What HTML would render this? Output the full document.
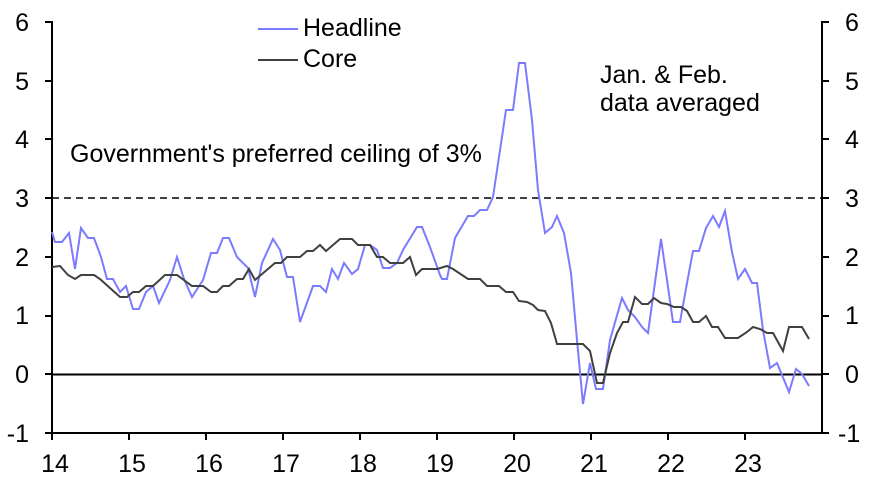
<!DOCTYPE html>
<html><head><meta charset="utf-8"><style>
body{margin:0;background:#fff;}
svg{display:block;font-family:"Liberation Sans",sans-serif;}
</style></head><body>
<svg width="873" height="481" viewBox="0 0 873 481">
<g font-size="25" fill="#000">
<text x="29" y="31" text-anchor="end">6</text>
<text x="29" y="90" text-anchor="end">5</text>
<text x="29" y="148" text-anchor="end">4</text>
<text x="29" y="207" text-anchor="end">3</text>
<text x="29" y="266" text-anchor="end">2</text>
<text x="29" y="324" text-anchor="end">1</text>
<text x="29" y="383" text-anchor="end">0</text>
<text x="29" y="442" text-anchor="end">-1</text>
<text x="845" y="31">6</text>
<text x="845" y="90">5</text>
<text x="845" y="148">4</text>
<text x="845" y="207">3</text>
<text x="845" y="266">2</text>
<text x="845" y="324">1</text>
<text x="845" y="383">0</text>
<text x="838" y="442">-1</text>
<g text-anchor="middle">
<text x="55" y="472">14</text><text x="132" y="472">15</text><text x="209" y="472">16</text><text x="286" y="472">17</text><text x="363" y="472">18</text><text x="440" y="472">19</text><text x="517" y="472">20</text><text x="594" y="472">21</text><text x="671" y="472">22</text><text x="748" y="472">23</text>
</g>
<text x="70" y="162">Government's preferred ceiling of 3%</text>
<text x="600" y="83">Jan. &amp; Feb.</text>
<text x="600" y="111">data averaged</text>
<text x="303" y="36">Headline</text>
<text x="303" y="67">Core</text>
</g>
<line x1="258" y1="29" x2="298" y2="29" stroke="#7b7bff" stroke-width="2"/>
<line x1="258" y1="60" x2="298" y2="60" stroke="#404040" stroke-width="2"/>
<g stroke="#000" stroke-width="2" fill="none">
<line x1="52" y1="21" x2="52" y2="434"/>
<line x1="822" y1="21" x2="822" y2="434"/>
<line x1="45" y1="433" x2="829" y2="433"/>
<line x1="52" y1="374.5" x2="822" y2="374.5"/>
</g>
<g stroke="#000" stroke-width="2">
<path d="M45 22h7M45 81h7M45 139h7M45 198h7M45 257h7M45 316h7M45 374h7M822 22h7M822 81h7M822 139h7M822 198h7M822 257h7M822 316h7M822 374h7"/>
<path d="M52 433v7M129 433v7M206 433v7M283 433v7M360 433v7M437 433v7M514 433v7M591 433v7M668 433v7M745 433v7"/>
</g>
<line x1="52" y1="198" x2="822" y2="198" stroke="#000" stroke-width="1.5" stroke-dasharray="7,5"/>
<polyline fill="none" stroke="#7b7bff" stroke-width="2" points="52,232 55,242 62,242 69,233 75,269 81,228 88,238 94,238 101,257 107,279 113,279 120,292 126,286 133,309 139,309 146,292 153,286 159,303 170,280 177,257 184,279 192,297 203,280 211,253 217,253 223,238 229,238 237,257 248,268 255,297 262,263 273,239 280,250 287,277 293,277 300,322 313,286 320,286 326,292 332,269 338,279 344,263 352,274 358,269 365,245 370,245 377,250 383,268 390,268 397,263 403,250 417,227 422,227 430,247 440,275 442,279 447,279 455,238 468,216 474,216 480,210 487,210 493,197 506,110 513,110 519,63 525,63 532,120 538,190 545,233 552,227 557,216 564,233 571,273 577,340 583,404 590,363 596,389 603,389 610,340 622,298 628,310 635,317 642,327 648,333 661,239 667,280 673,322 680,322 687,283 693,251 699,251 706,228 713,216 719,227 725,211 732,252 738,279 745,269 752,283 757,283 763,330 770,368 777,363 789,392 796,369 802,374 809,386"/>
<polyline fill="none" stroke="#404040" stroke-width="2" points="52,267 60,266 68,275 75,279 81,275 94,275 100,279 120,297 127,297 133,292 139,292 146,286 153,286 165,275 177,275 192,286 203,286 211,292 217,292 223,286 229,286 237,279 243,279 249,269 255,280 275,263 281,263 287,257 300,257 307,251 313,251 320,245 326,251 340,239 352,239 358,245 370,245 377,257 383,257 390,263 403,263 410,257 416,275 422,269 437,269 447,266 453,269 468,279 480,279 487,286 499,286 506,292 513,292 519,301 527,302 533,305 538,310 545,311 551,323 557,344 583,344 590,351 597,383 603,383 610,353 617,333 623,322 628,322 635,297 642,304 648,304 654,298 661,303 667,304 674,307 681,307 687,311 693,322 699,322 706,316 712,327 718,327 725,338 738,338 747,332 753,327 760,329 767,333 773,333 783,351 789,327 802,327 809,339"/>
</svg>
</body></html>
